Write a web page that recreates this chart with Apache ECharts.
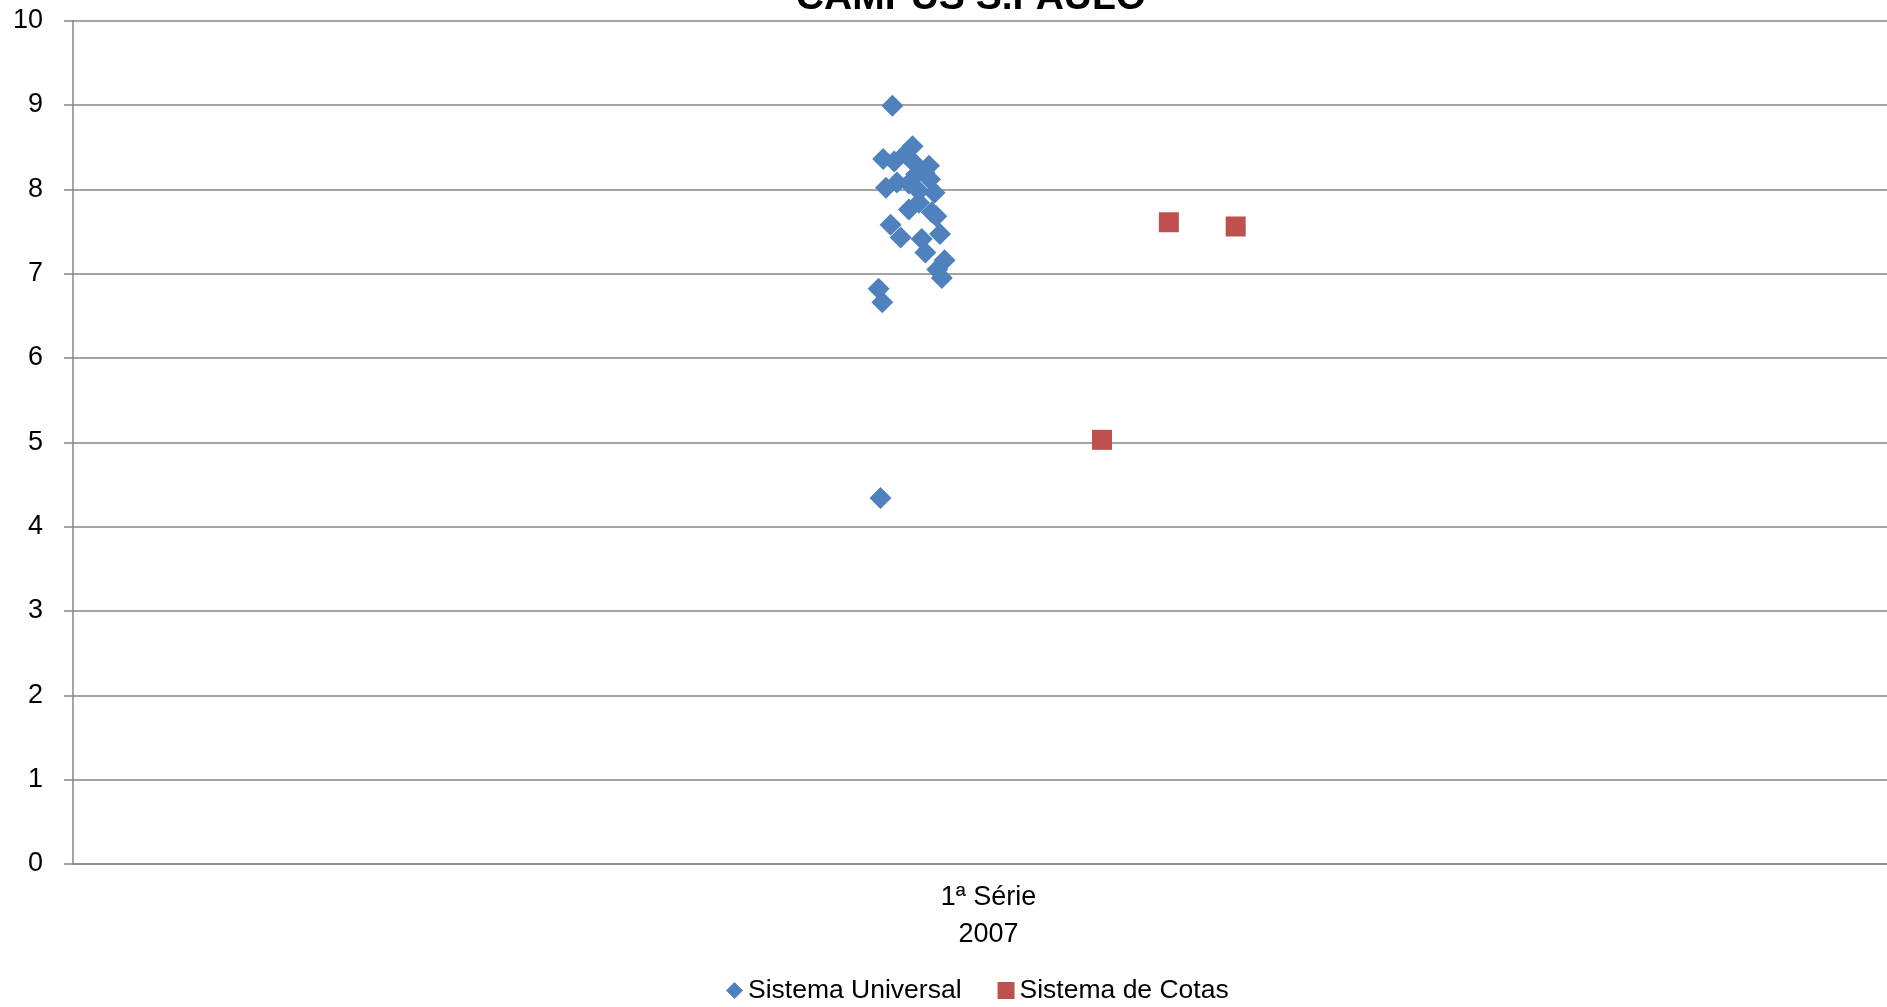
<!DOCTYPE html>
<html>
<head>
<meta charset="utf-8">
<script src="https://cdn.jsdelivr.net/npm/echarts@6/dist/echarts.min.js"></script>
<style>
html,body{margin:0;padding:0;background:#fff;overflow:hidden;}
#chart{width:1907px;height:1007px;}
</style>
</head>
<body>
<div id="chart"></div>
<script>
const title = 'CAMPUS S.PAULO';
const categoryLabel = '1ª Série\n2007';
const yTicks = [0,1,2,3,4,5,6,7,8,9,10];
const seriesNames = ['Sistema Universal', 'Sistema de Cotas'];
// x: position around the category centre (1 = centre of "1ª Série 2007"), y: grade
const universalX = [0.895,0.917,0.885,0.897,0.909,0.920,0.935,0.930,0.888,0.900,0.913,0.921,0.924,0.936,0.941,0.913,0.924,0.938,0.943,0.893,0.904,0.927,0.947,0.931,0.952,0.944,0.949,0.880,0.884,0.882];
const universalY = [8.99,8.51,8.36,8.33,8.42,8.30,8.28,8.20,8.02,8.08,8.07,8.18,7.98,8.12,7.96,7.76,7.84,7.73,7.68,7.58,7.43,7.41,7.47,7.25,7.16,7.05,6.95,6.82,6.66,4.34];
const cotasX = [1.124,1.197,1.270];
const cotasY = [5.03,7.61,7.56];

const FONT = 'Liberation Sans';
const chart = echarts.init(document.getElementById('chart'));
chart.setOption({
  animation: false,
  textStyle: {fontFamily: FONT},
  graphic: [{
    type: 'text', x: 971, y: -2,
    style: {text: title, font: 'bold 39px "Liberation Sans"', fill: '#000', align: 'center', verticalAlign: 'middle'}
  }],
  grid: {left: 73, right: 0, top: 20.7, bottom: 143, containLabel: false},
  legend: {
    left: 726, bottom: 3, padding: 0,
    itemWidth: 17, itemHeight: 17, itemGap: 36,
    textStyle: {fontSize: 26.5, color: '#000', fontFamily: FONT},
    data: [{name: seriesNames[0], icon: 'diamond'}, {name: seriesNames[1], icon: 'rect'}]
  },
  xAxis: {
    type: 'value', min: 0, max: 2, interval: 1,
    axisLine: {show: true, lineStyle: {color: '#868686', width: 1.5}},
    axisTick: {show: false},
    splitLine: {show: false},
    axisLabel: {
      margin: 15, fontSize: 27, lineHeight: 37, color: '#000', fontFamily: FONT,
      formatter: v => (v === 1 ? categoryLabel : '')
    }
  },
  yAxis: {
    type: 'value', min: yTicks[0], max: yTicks[yTicks.length - 1], interval: 1,
    axisLine: {show: true, lineStyle: {color: '#868686', width: 1.5}},
    axisTick: {show: true, inside: false, length: 9, lineStyle: {color: '#868686', width: 1.5}},
    splitLine: {show: true, lineStyle: {color: '#868686', width: 1.5}},
    axisLabel: {margin: 30, fontSize: 27, color: '#000', fontFamily: FONT}
  },
  series: [
    {
      name: seriesNames[0], type: 'scatter', symbol: 'diamond', symbolSize: 22,
      itemStyle: {color: '#4F81BD', opacity: 1},
      data: universalX.map((x, i) => [x, universalY[i]])
    },
    {
      name: seriesNames[1], type: 'scatter', symbol: 'rect', symbolSize: 20,
      itemStyle: {color: '#C0504D', opacity: 1},
      data: cotasX.map((x, i) => [x, cotasY[i]])
    }
  ]
});
</script>
</body>
</html>
